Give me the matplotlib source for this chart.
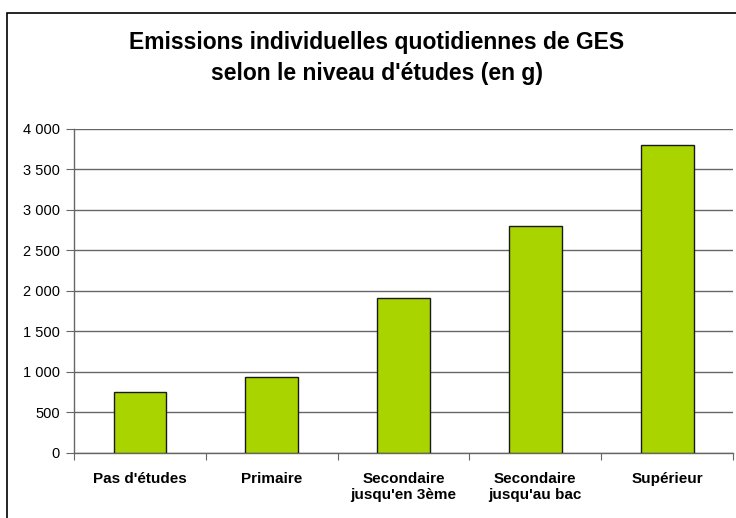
import matplotlib.pyplot as plt
from matplotlib.patches import Rectangle
from matplotlib.ticker import FuncFormatter
import numpy as np

plt.rcParams['font.family'] = ['Liberation Sans', 'DejaVu Sans']

# données
categories = ["Pas d'études", "Primaire", "Secondaire\njusqu'en 3ème",
              "Secondaire\njusqu'au bac", "Supérieur"]
emissions = [755, 940, 1910, 2800, 3800]
y_ticks = [0, 500, 1000, 1500, 2000, 2500, 3000, 3500, 4000]

fig = plt.figure(figsize=(7.36, 5.18), dpi=100)
ax = fig.add_axes([0.1005, 0.126, 0.8955, 0.625])

x = np.arange(len(categories))
ax.bar(x, emissions, width=0.4, color='#AAD400', edgecolor='#1a1a1a',
       linewidth=1, zorder=3)

ax.set_xlim(-0.5, len(categories) - 0.5)
ax.set_ylim(0, 4000)
ax.set_yticks(y_ticks)
ax.yaxis.set_major_formatter(FuncFormatter(lambda v, p: f"{int(v):,}".replace(",", " ")))
ax.grid(axis='y', color='#666666', linewidth=1, zorder=0)

# ticks de l'axe x entre les catégories
ax.set_xticks(np.arange(len(categories) + 1) - 0.5)
ax.set_xticklabels([])
ax.set_xticks(x, minor=True)
ax.set_xticklabels(categories, minor=True, fontsize=11, fontweight='bold')
ax.tick_params(axis='x', which='minor', length=0, pad=14)
ax.tick_params(axis='x', which='major', length=5, color='#666666', direction='out')
ax.tick_params(axis='y', length=6, color='#666666', labelsize=10.5, pad=4)

for s in ['top', 'right']:
    ax.spines[s].set_visible(False)
for s in ['left', 'bottom']:
    ax.spines[s].set_color('#666666')
    ax.spines[s].set_linewidth(1)

fig.text(0.512, 0.888, "Emissions individuelles quotidiennes de GES\nselon le niveau d'études (en g)",
         ha='center', va='center', fontsize=16.5, fontweight='bold', linespacing=1.45)

# cadre extérieur du graphique
fig.patches.append(Rectangle((7 / 736, -0.01), 1.0, 1 - 13 / 518 + 0.01,
                             transform=fig.transFigure, fill=False,
                             edgecolor='black', linewidth=1.2))

fig.savefig('out.png', dpi=100)
